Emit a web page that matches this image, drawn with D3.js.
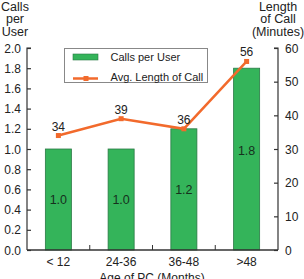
<!DOCTYPE html>
<html>
<head>
<meta charset="utf-8">
<script src="https://d3js.org/d3.v7.min.js"></script>
<style>
body{margin:0;background:#fff;}
svg text{font-family:"Liberation Sans",Arial,sans-serif;fill:#222;}
</style>
</head>
<body>
<div id="chart"></div>
<script>
//数据
var cats = ["< 12","24-36","36-48",">48"]
var callsPerUser = [1.0,1.0,1.2,1.8]
var avgLength = [34,39,36,56]
var leftTicks = [0,0.2,0.4,0.6,0.8,1.0,1.2,1.4,1.6,1.8,2.0]
var rightTicks = [0,10,20,30,40,50,60]

var width = 304
var height = 279
var green = "#34b45a"
var orange = "#f26a2c"

var svg = d3.select("#chart").append("svg")
    .attr("width",width)
    .attr("height",height)

var x0 = 27, x1 = 278, yb = 250, yt = 48

var scaleX = d3.scaleBand()
    .domain(cats)
    .range([x0,x1])
    .paddingInner(0.585)
    .paddingOuter(0.2925)
var scaleL = d3.scaleLinear().domain([0,2]).range([yb,yt])
var scaleR = d3.scaleLinear().domain([0,60]).range([yb,yt])

//bars
svg.append("g").selectAll("rect")
    .data(callsPerUser)
    .join("rect")
    .attr("x",(d,i)=>scaleX(cats[i]))
    .attr("y",d=>scaleL(d))
    .attr("width",scaleX.bandwidth())
    .attr("height",d=>yb-scaleL(d))
    .attr("fill",green)
    .attr("stroke","#2a7a45")
    .attr("stroke-width",0.8)

svg.append("g").selectAll("text")
    .data(callsPerUser)
    .join("text")
    .attr("x",(d,i)=>scaleX(cats[i])+scaleX.bandwidth()/2)
    .attr("y",d=>Math.min((scaleL(d)+yb)/2,scaleL(d)+82)+4.5)
    .attr("text-anchor","middle")
    .style("font-size","12.5px")
    .style("fill","#16301d")
    .text(d=>d.toFixed(1))

//axes
var axL = svg.append("g").attr("transform","translate("+x0+",0)")
    .call(d3.axisRight(scaleL).tickValues(leftTicks).tickSize(4).tickFormat(""))
axL.select(".domain").attr("d","M4,"+yt+"H0V"+yb)
svg.append("g").selectAll("text")
    .data(leftTicks)
    .join("text")
    .attr("x",21)
    .attr("y",d=>scaleL(d)+4.5)
    .attr("text-anchor","end")
    .style("font-size","12px")
    .text(d=>d.toFixed(1))

var axR = svg.append("g").attr("transform","translate("+x1+",0)")
    .call(d3.axisLeft(scaleR).tickValues(rightTicks).tickSize(4).tickFormat(""))
axR.select(".domain").attr("d","M-4,"+yt+"H0V"+yb)
svg.append("g").selectAll("text")
    .data(rightTicks)
    .join("text")
    .attr("x",285)
    .attr("y",d=>scaleR(d)+4.5)
    .attr("text-anchor","start")
    .style("font-size","12px")
    .text(d=>d)

svg.selectAll(".domain, .tick line").attr("stroke","#333").attr("stroke-width",1.2)

//x axis
svg.append("line")
    .attr("x1",x0).attr("x2",x1)
    .attr("y1",yb).attr("y2",yb)
    .attr("stroke","#333").attr("stroke-width",1.4)
svg.append("g").selectAll("line")
    .data(cats.slice(1))
    .join("line")
    .attr("x1",d=>scaleX(d)-scaleX.step()*scaleX.paddingInner()/2)
    .attr("x2",d=>scaleX(d)-scaleX.step()*scaleX.paddingInner()/2)
    .attr("y1",yb).attr("y2",yb-5)
    .attr("stroke","#333").attr("stroke-width",1)
svg.append("g").selectAll("text")
    .data(cats)
    .join("text")
    .attr("x",d=>scaleX(d)+scaleX.bandwidth()/2)
    .attr("y",266)
    .attr("text-anchor","middle")
    .style("font-size","12px")
    .text(d=>d)
svg.append("text")
    .attr("x",152).attr("y",282)
    .attr("text-anchor","middle")
    .style("font-size","12px")
    .text("Age of PC (Months)")

//line
var line = d3.line()
    .x((d,i)=>scaleX(cats[i])+scaleX.bandwidth()/2)
    .y(d=>scaleR(d))
svg.append("path")
    .datum(avgLength)
    .attr("d",line)
    .attr("fill","none")
    .attr("stroke",orange)
    .attr("stroke-width",2.5)
svg.append("g").selectAll("rect")
    .data(avgLength)
    .join("rect")
    .attr("x",(d,i)=>scaleX(cats[i])+scaleX.bandwidth()/2-2.5)
    .attr("y",d=>scaleR(d)-2.5)
    .attr("width",5).attr("height",5)
    .attr("fill",orange)
svg.append("g").selectAll("text")
    .data(avgLength)
    .join("text")
    .attr("x",(d,i)=>scaleX(cats[i])+scaleX.bandwidth()/2)
    .attr("y",d=>scaleR(d)-5)
    .attr("text-anchor","middle")
    .style("font-size","12px")
    .text(d=>d)

//axis titles
svg.append("text")
    .attr("text-anchor","middle")
    .style("font-size","12.5px")
    .style("fill","#222")
    .selectAll("tspan")
    .data(["Calls","per","User"])
    .join("tspan")
    .attr("x",15)
    .attr("y",(d,i)=>10.5+i*12.5)
    .text(d=>d)
svg.append("text")
    .attr("text-anchor","middle")
    .style("font-size","12.5px")
    .style("fill","#222")
    .selectAll("tspan")
    .data(["Length","of Call","(Minutes)"])
    .join("tspan")
    .attr("x",278)
    .attr("y",(d,i)=>10.5+i*12.5)
    .text(d=>d)

//legend
var lg = svg.append("g")
lg.append("rect")
    .attr("x",64.5).attr("y",48.5)
    .attr("width",143).attr("height",34)
    .attr("fill","#fff").attr("stroke","#888").attr("stroke-width",1)
lg.append("rect")
    .attr("x",73).attr("y",54)
    .attr("width",25).attr("height",6)
    .attr("fill",green).attr("stroke","#2a7a45").attr("stroke-width",0.6)
lg.append("line")
    .attr("x1",73).attr("x2",98).attr("y1",78.5).attr("y2",78.5)
    .attr("stroke",orange).attr("stroke-width",2.5)
lg.append("rect")
    .attr("x",83.5).attr("y",76).attr("width",5).attr("height",5)
    .attr("fill",orange)
lg.append("text").attr("x",110.5).attr("y",61)
    .style("font-size","11px").text("Calls per User")
lg.append("text").attr("x",110.5).attr("y",81)
    .style("font-size","11px").text("Avg. Length of Call")
</script>
</body>
</html>
